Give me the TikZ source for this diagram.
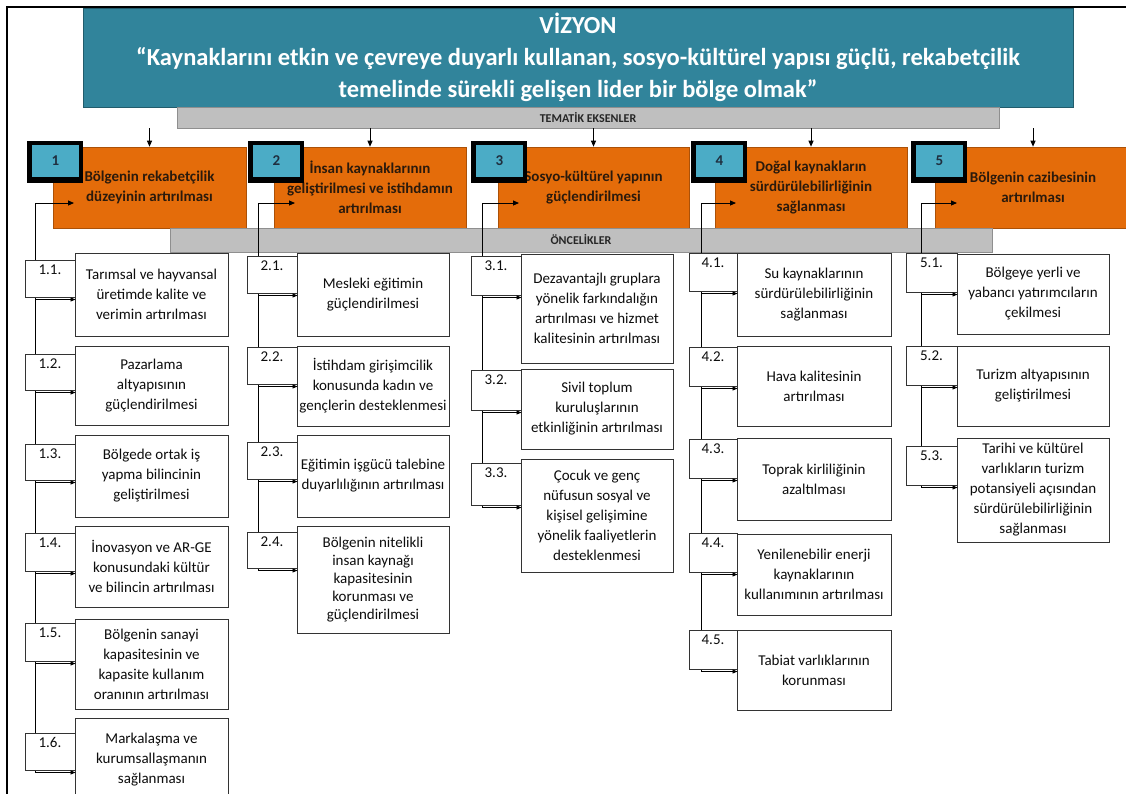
\documentclass[tikz,border=0pt]{standalone}
\usepackage{fontspec}
\setmainfont{Carlito}
\usetikzlibrary{arrows.meta,calc}
\definecolor{vteal}{HTML}{31849B}
\definecolor{vorange}{HTML}{E46C0A}
\definecolor{vblue}{HTML}{4BACC6}
\definecolor{vgray}{HTML}{BFBFBF}
\definecolor{otext}{HTML}{2B1A0C}
\definecolor{btext}{HTML}{1F2F3F}
\newcommand\rbox[6]{\node[#1, minimum width={(#4)-(#2)}, minimum height={(#5)-(#3)}] (#6) at ({((#2)+(#4))/2},{((#3)+(#5))/2})}
\tikzset{
 vheader/.style={fill=vteal, draw=vteal!70!black, line width=0.8pt, text=white, font=\bfseries\fontsize{24.5}{32}\selectfont, align=center, inner sep=0pt},
 vbar/.style={fill=vgray, draw=vgray!75!black, line width=0.6pt, font=\bfseries\fontsize{12}{14}\selectfont, text=black!85, inner sep=0pt},
 vobox/.style={fill=vorange, draw=vorange!75!black, line width=0.6pt, text=otext, font=\bfseries\fontsize{15}{20}\selectfont, align=center, inner sep=0pt},
 vsqout/.style={fill=black, draw=none, inner sep=0pt},
 vsqin/.style={fill=vblue, draw=none, text=btext, font=\bfseries\fontsize{15}{18}\selectfont, inner sep=0pt},
 vtbox/.style={fill=white, draw=black!80, line width=1pt, text=black!95, font=\fontsize{15}{20}\selectfont, align=center, inner sep=0pt},
 vnbox/.style={fill=white, draw=black!80, line width=1pt, inner sep=0pt},
 vnlabel/.style={anchor=north, inner sep=0pt, text=black!95, font=\fontsize{15}{18}\selectfont},
 vconn/.style={draw=black, line width=0.9pt},
 varr/.style={vconn, -{Triangle[length=6pt,width=5pt]}},
 viarr/.style={vconn, -{Triangle[length=5pt,width=4pt]}},
 vframe/.style={draw=black, line width=1.3pt}
}
\begin{document}
\begin{tikzpicture}[x=1pt,y=-1pt]
\useasboundingbox (0,0) rectangle (1126,793);
\clip (0,0) rectangle (1126,793);
\fill[white] (0,0) rectangle (1126,793);
\draw[vframe] (7,800) -- (7,7) -- (1130,7);

% header and thematic bar
\rbox{vheader}{83}{8}{1073}{107}{vis}{VİZYON\\“Kaynaklarını etkin ve çevreye duyarlı kullanan, sosyo-kültürel yapısı güçlü, rekabetçilik\\temelinde sürekli gelişen lider bir bölge olmak”};
\rbox{vbar}{177}{107}{999}{128}{tem}{TEMATİK EKSENLER};

% thematic axes
\rbox{vobox}{53}{147}{246}{228}{o1}{Bölgenin rekabetçilik\\düzeyinin artırılması};
\rbox{vobox}{274}{147}{466}{228}{o2}{İnsan kaynaklarının\\geliştirilmesi ve istihdamın\\artırılması};
\rbox{vobox}{498}{147}{689}{228}{o3}{Sosyo-kültürel yapının\\güçlendirilmesi};
\rbox{vobox}{715}{147}{907}{228}{o4}{Doğal kaynakların\\sürdürülebilirliğinin\\sağlanması};
\rbox{vobox}{935}{147}{1131}{228}{o5}{Bölgenin cazibesinin\\artırılması};

\foreach \i in {1,...,5}{\draw[varr] (tem.south -| o\i.north) -- (o\i.north);}

% numbered squares
\rbox{vsqout}{27}{141}{83}{183}{s1o}{};
\rbox{vsqin}{32}{145}{79}{177}{s1}{1};
\rbox{vsqout}{248}{141}{304}{183}{s2o}{};
\rbox{vsqin}{253}{145}{300}{177}{s2}{2};
\rbox{vsqout}{471}{141}{527}{183}{s3o}{};
\rbox{vsqin}{476}{145}{523}{177}{s3}{3};
\rbox{vsqout}{691}{141}{747}{183}{s4o}{};
\rbox{vsqin}{696}{145}{743}{177}{s4}{4};
\rbox{vsqout}{911}{141}{967}{183}{s5o}{};
\rbox{vsqin}{916}{145}{963}{177}{s5}{5};

\rbox{vbar}{170}{228}{992}{252}{onc}{ÖNCELİKLER};

% spines
\coordinate (v1) at (35,203);  \coordinate (v1e) at (35,772);
\coordinate (v2) at (258,203); \coordinate (v2e) at (258,570);
\coordinate (v3) at (482,203); \coordinate (v3e) at (482,507);
\coordinate (v4) at (701,203); \coordinate (v4e) at (701,671);
\coordinate (v5) at (921,203); \coordinate (v5e) at (921,487);
\coordinate (o1t) at (74,203);
\coordinate (o2t) at (295,203);
\coordinate (o3t) at (519,203);
\coordinate (o4t) at (736,203);
\coordinate (o5t) at (957,203);
\foreach \i in {1,...,5}{\draw[vconn] (v\i) -- (v\i e); \draw[varr] (v\i) -- (o\i t);}

% column 1
\rbox{vtbox}{75}{253}{228}{336}{t11}{Tarımsal ve hayvansal\\üretimde kalite ve\\verimin artırılması};
\rbox{vtbox}{75}{346}{228}{425}{t12}{Pazarlama\\altyapısının\\güçlendirilmesi};
\rbox{vtbox}{75}{435}{228}{517}{t13}{Bölgede ortak iş\\yapma bilincinin\\geliştirilmesi};
\rbox{vtbox}{75}{526}{228}{607}{t14}{İnovasyon ve AR-GE\\konusundaki kültür\\ve bilincin artırılması};
\rbox{vtbox}{75}{619}{228}{709}{t15}{Bölgenin sanayi\\kapasitesinin ve\\kapasite kullanım\\oranının artırılması};
\rbox{vtbox}{75}{718}{228}{801}{t16}{Markalaşma ve\\kurumsallaşmanın\\sağlanması};
\rbox{vnbox}{25}{260}{75}{297}{n11}{};
\rbox{vnbox}{25}{354}{75}{390}{n12}{};
\rbox{vnbox}{25}{444}{75}{480}{n13}{};
\rbox{vnbox}{25}{533}{75}{571}{n14}{};
\rbox{vnbox}{25}{623}{75}{661}{n15}{};
\rbox{vnbox}{25}{733}{75}{770}{n16}{};

% column 2
\rbox{vtbox}{297}{253}{449}{336}{t21}{Mesleki eğitimin\\güçlendirilmesi};
\rbox{vtbox}{297}{346}{449}{426}{t22}{İstihdam girişimcilik\\konusunda kadın ve\\gençlerin desteklenmesi};
\rbox{vtbox}{297}{435}{449}{517}{t23}{Eğitimin işgücü talebine\\duyarlılığının artırılması};
\rbox{vtbox, font=\fontsize{15}{18}\selectfont}{297}{526}{449}{633}{t24}{Bölgenin nitelikli\\insan kaynağı\\kapasitesinin\\korunması ve\\güçlendirilmesi};
\rbox{vnbox}{247}{256}{297}{293}{n21}{};
\rbox{vnbox}{247}{347}{297}{384}{n22}{};
\rbox{vnbox}{247}{442}{297}{479}{n23}{};
\rbox{vnbox}{247}{532}{297}{568}{n24}{};

% column 3
\rbox{vtbox}{521}{254}{673}{363}{t31}{Dezavantajlı gruplara\\yönelik farkındalığın\\artırılması ve hizmet\\kalitesinin artırılması};
\rbox{vtbox}{521}{369}{673}{449}{t32}{Sivil toplum\\kuruluşlarının\\etkinliğinin artırılması};
\rbox{vtbox}{521}{459}{673}{572}{t33}{Çocuk ve genç\\nüfusun sosyal ve\\kişisel gelişimine\\yönelik faaliyetlerin\\desteklenmesi};
\rbox{vnbox}{471}{256}{521}{295}{n31}{};
\rbox{vnbox}{471}{370}{521}{410}{n32}{};
\rbox{vnbox}{471}{463}{521}{505}{n33}{};

% column 4
\rbox{vtbox}{737}{253}{891}{336}{t41}{Su kaynaklarının\\sürdürülebilirliğinin\\sağlanması};
\rbox{vtbox}{737}{346}{891}{426}{t42}{Hava kalitesinin\\artırılması};
\rbox{vtbox}{737}{438}{891}{520}{t43}{Toprak kirliliğinin\\azaltılması};
\rbox{vtbox}{737}{534}{891}{615}{t44}{Yenilenebilir enerji\\kaynaklarının\\kullanımının artırılması};
\rbox{vtbox}{737}{630}{891}{710}{t45}{Tabiat varlıklarının\\korunması};
\rbox{vnbox}{689}{253}{737}{291}{n41}{};
\rbox{vnbox}{689}{347}{737}{386}{n42}{};
\rbox{vnbox}{689}{439}{737}{478}{n43}{};
\rbox{vnbox}{689}{533}{737}{572}{n44}{};
\rbox{vnbox}{689}{630}{737}{669}{n45}{};

% column 5
\rbox{vtbox}{957}{254}{1109}{334}{t51}{Bölgeye yerli ve\\yabancı yatırımcıların\\çekilmesi};
\rbox{vtbox}{957}{346}{1109}{426}{t52}{Turizm altyapısının\\geliştirilmesi};
\rbox{vtbox}{957}{438}{1109}{542}{t53}{Tarihi ve kültürel\\varlıkların turizm\\potansiyeli açısından\\sürdürülebilirliğinin\\sağlanması};
\rbox{vnbox}{906}{253}{957}{292}{n51}{};
\rbox{vnbox}{906}{346}{957}{385}{n52}{};
\rbox{vnbox}{906}{446}{957}{485}{n53}{};

% number labels and arrows
\foreach \c/\n in {1/1,1/2,1/3,1/4,1/5,1/6,2/1,2/2,2/3,2/4,3/1,3/2,3/3,4/1,4/2,4/3,4/4,4/5,5/1,5/2,5/3}{
  \node[vnlabel] (n\c\n l) at ($(n\c\n.north)+(0,5)$) {\c.\n.};
  \draw[viarr] ($(n\c\n.south -| v\c)+(0,2)$) -- ($(n\c\n.south east)+(0,2)$);
}
\end{tikzpicture}
\end{document}
